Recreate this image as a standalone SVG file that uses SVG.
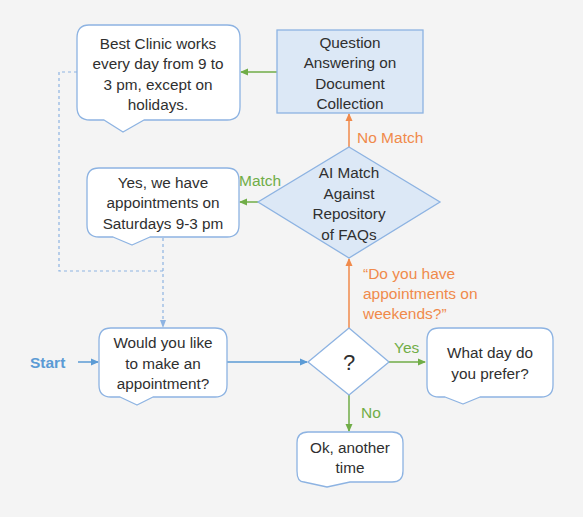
<svg xmlns="http://www.w3.org/2000/svg" width="583" height="517" viewBox="0 0 583 517">
<defs>
<style>
.bg{fill:#f4f4f4}
.box{fill:#ffffff;stroke:#8db3e2;stroke-width:1.3;stroke-linejoin:round}
.blue{fill:#dce8f6;stroke:#8db3e2;stroke-width:1.3}
.t{font-family:"Liberation Sans",Arial,sans-serif;font-size:15.3px;fill:#2f2f2f;text-anchor:middle}
.q{font-size:22px}
.lbl{font-family:"Liberation Sans",Arial,sans-serif;font-size:15.5px}
.g{stroke:#70ad47;stroke-width:1.5;fill:none}
.o{stroke:#f08a4b;stroke-width:1.5;fill:none}
.b{stroke:#5b9bd5;stroke-width:1.5;fill:none}
.d{stroke:#8db3e2;stroke-width:1.2;fill:none;stroke-dasharray:3,3}
</style>
<marker id="ag" markerWidth="8" markerHeight="8" refX="7" refY="4" orient="auto" markerUnits="userSpaceOnUse"><path d="M0,0.5 L8,4 L0,7.5 Z" fill="#70ad47"/></marker>
<marker id="ao" markerWidth="8" markerHeight="8" refX="7" refY="4" orient="auto" markerUnits="userSpaceOnUse"><path d="M0,0.5 L8,4 L0,7.5 Z" fill="#f08a4b"/></marker>
<marker id="ab" markerWidth="8" markerHeight="8" refX="7" refY="4" orient="auto" markerUnits="userSpaceOnUse"><path d="M0,0.5 L8,4 L0,7.5 Z" fill="#5b9bd5"/></marker>
<marker id="ad" markerWidth="8" markerHeight="8" refX="7" refY="4" orient="auto" markerUnits="userSpaceOnUse"><path d="M0,1 L8,4 L0,7 Z" fill="#8db3e2"/></marker>
</defs>
<rect class="bg" x="0" y="0" width="583" height="517"/>

<g id="connectors">
<path class="d" d="M77,72 H59 V271 H163"/>
<path class="d" d="M163,238 V327" marker-end="url(#ad)"/>
<path class="g" d="M277,72 H241" marker-end="url(#ag)"/>
<path class="o" d="M349,147 V114" marker-end="url(#ao)"/>
<path class="g" d="M258,202 H240" marker-end="url(#ag)"/>
<path class="b" d="M78,362 H98" marker-end="url(#ab)"/>
<path class="b" d="M227,362 H307" marker-end="url(#ab)"/>
<path class="o" d="M349,328 V259" marker-end="url(#ao)"/>
<path class="g" d="M389,362 H425" marker-end="url(#ag)"/>
<path class="g" d="M349,395 V431" marker-end="url(#ag)"/>
<text class="lbl" x="357" y="143" fill="#f08a4b">No Match</text>
<text class="lbl" x="239" y="186" fill="#70ad47">Match</text>
<text class="lbl" x="30" y="368" fill="#5b9bd5" font-weight="bold">Start</text>
<text class="lbl" x="363" y="279" fill="#f08a4b">“Do you have</text>
<text class="lbl" x="363" y="299" fill="#f08a4b">appointments on</text>
<text class="lbl" x="363" y="319" fill="#f08a4b">weekends?”</text>
<text class="lbl" x="394" y="353" fill="#70ad47">Yes</text>
<text class="lbl" x="361" y="418" fill="#70ad47">No</text>
</g>

<g id="best-clinic">
<path class="box" d="M89,25 H227 Q240,25 240,38 V107 Q240,120 227,120 H144 L123,132 L104,120 H90 Q77,120 77,107 V38 Q77,25 89,25 Z"/>
<text class="t" x="158" y="49">Best Clinic works</text>
<text class="t" x="158" y="69">every day from 9 to</text>
<text class="t" x="158" y="90">3 pm, except on</text>
<text class="t" x="158" y="110">holidays.</text>
</g>

<g id="question-answering">
<rect class="blue" x="277" y="30" width="146" height="83"/>
<text class="t" x="350" y="48">Question</text>
<text class="t" x="350" y="68">Answering on</text>
<text class="t" x="350" y="89">Document</text>
<text class="t" x="350" y="109">Collection</text>
</g>

<g id="ai-match">
<path class="blue" d="M349,147 L440,202 L349,258 L258,202 Z"/>
<text class="t" x="349" y="178">AI Match</text>
<text class="t" x="349" y="199">Against</text>
<text class="t" x="349" y="219">Repository</text>
<text class="t" x="349" y="240">of FAQs</text>
</g>

<g id="saturdays">
<path class="box" d="M99,168 H227 Q239,168 239,180 V225 Q239,237 227,237 H150 L132,245 L113,237 H99 Q87,237 87,225 V180 Q87,168 99,168 Z"/>
<text class="t" x="163" y="188">Yes, we have</text>
<text class="t" x="163" y="208">appointments on</text>
<text class="t" x="163" y="229">Saturdays 9-3 pm</text>
</g>

<g id="would-you-like">
<path class="box" d="M111,328 H215 Q227,328 227,340 V385 Q227,397 215,397 H153 L137,405 L120,397 H111 Q99,397 99,385 V340 Q99,328 111,328 Z"/>
<text class="t" x="163" y="348">Would you like</text>
<text class="t" x="163" y="369">to make an</text>
<text class="t" x="163" y="389">appointment?</text>
</g>

<g id="question-mark">
<path class="box" d="M349,328 L389,362 L349,395 L308,362 Z"/>
<text class="t q" x="349" y="370">?</text>
</g>

<g id="what-day">
<path class="box" d="M439,328 H541 Q553,328 553,340 V385 Q553,397 541,397 H480 L463,404 L445,397 H439 Q427,397 427,385 V340 Q427,328 439,328 Z"/>
<text class="t" x="490" y="358">What day do</text>
<text class="t" x="490" y="379">you prefer?</text>
</g>

<g id="ok-another-time">
<path class="box" d="M308,432 H392 Q403,432 403,443 V471 Q403,482 392,482 H350 L327,487 L304,482 Q297,482 297,471 V443 Q297,432 308,432 Z"/>
<text class="t" x="350" y="453">Ok, another</text>
<text class="t" x="350" y="473">time</text>
</g>
</svg>
